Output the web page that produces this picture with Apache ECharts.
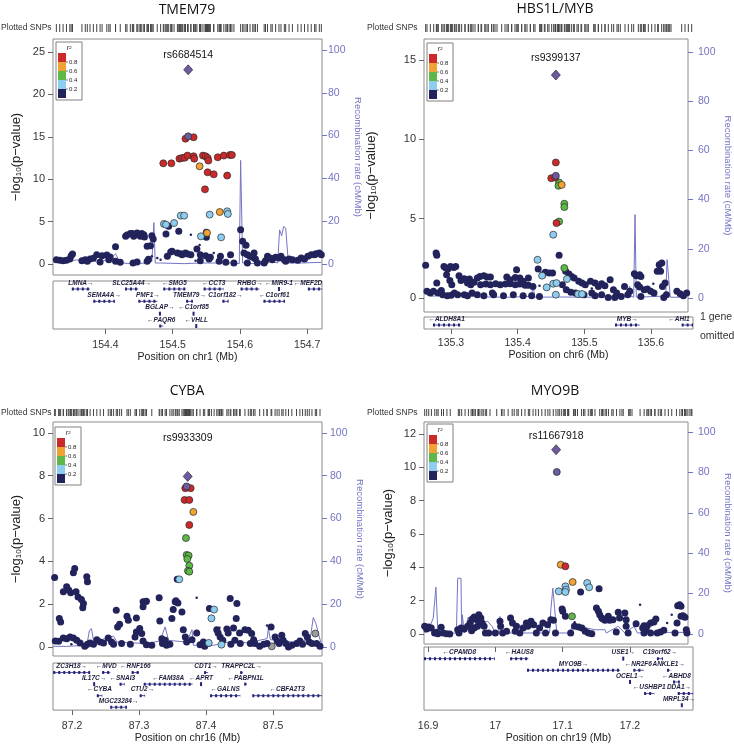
<!DOCTYPE html>
<html>
<head>
<meta charset="utf-8">
<script src="https://cdn.jsdelivr.net/npm/echarts@6/dist/echarts.min.js"></script>
<style>
  html, body { margin: 0; background: #fff; }
  #chart { width: 734px; height: 745px; }
</style>
</head>
<body>
<div id="chart"></div>
<script>
// ---- data ----
const titles = ['TMEM79', 'HBS1L/MYB', 'CYBA', 'MYO9B']
const chromNames = ['chr1', 'chr6', 'chr16', 'chr19']
const leadSnps = ['rs6684514', 'rs9399137', 'rs9933309', 'rs11667918']
const leadPoints = [[154.523, 22.9], [135.461, 14.05], [87.3726, 7.97], [17.094, 11.06]]
const r2Labels = ['0.8', '0.6', '0.4', '0.2']
const pTicks = [[0, 5, 10, 15, 20, 25], [0, 5, 10, 15], [0, 2, 4, 6, 8, 10], [0, 2, 4, 6, 8, 10, 12]]
const recTicks = [0, 20, 40, 60, 80, 100]
const posTicks = [[154.4, 154.5, 154.6, 154.7], [135.3, 135.4, 135.5, 135.6], [87.2, 87.3, 87.4, 87.5], [16.9, 17, 17.1, 17.2]]

// [position Mb, -log10 p, r2 class] class: 0 <0.2, 1 0.2-0.4, 2 0.4-0.6, 3 0.6-0.8, 4 >0.8, 5 lead proxy, 6 no r2
const snp1 = [
  [154.327,0.51,0],[154.332,0.43,0],[154.337,0.39,0],[154.342,0.43,0],[154.347,0.59,0],[154.349,0.98,0],[154.351,1.18,0],[154.365,0.39,0],[154.370,0.51,0],[154.373,0.31,0],[154.377,0.59,0],[154.382,0.67,0],[154.387,1.1,0],[154.392,0.24,0],[154.395,0.98,0],[154.402,1.06,0],[154.405,0.51,0],[154.407,0.83,0],[154.415,2.04,0],[154.415,0.31,0],[154.422,0.2,0],
  [154.430,3.26,0],[154.432,3.42,0],[154.437,3.58,0],[154.440,3.58,0],[154.442,3.26,0],[154.447,3.66,0],[154.450,3.46,0],[154.452,3.26,0],[154.454,3.58,0],[154.457,3.46,0],[154.458,3.18,0],[154.469,3.34,0],[154.471,2.95,0],[154.462,2.08,0],[154.467,2.16,0],[154.441,0.12,0],[154.447,0.24,0],[154.462,0.31,0],[154.464,0.55,0],
  [154.492,0.9,0],[154.497,1.42,0],[154.499,1.49,0],[154.507,1.3,0],[154.512,1.22,0],[154.514,1.1,0],[154.519,1.3,0],[154.522,1.18,0],[154.527,1.1,0],[154.536,1.77,0],[154.541,1.1,0],[154.549,0.98,0],[154.556,0.79,0],[154.571,0.9,0],[154.586,1.1,0],[154.541,0.39,0],[154.554,0.59,0],[154.569,0.31,0],[154.579,0.2,0],[154.591,0.12,0],
  [154.604,2.67,0],[154.609,2.2,0],[154.606,1.3,0],[154.611,1.1,0],[154.615,0.9,0],[154.619,0.79,0],[154.621,1.3,0],[154.623,0.59,0],[154.626,0.12,0],[154.611,0.12,0],[154.636,0.12,0],[154.638,0.39,0],[154.641,0.9,0],[154.646,0.67,0],[154.648,0.51,0],[154.653,0.79,0],[154.658,0.71,0],[154.661,0.9,0],[154.666,0.51,0],[154.668,0.31,0],[154.673,0.59,0],[154.678,0.51,0],[154.686,0.43,0],[154.691,0.71,0],[154.696,0.59,0],[154.701,0.9,0],[154.706,1.1,0],[154.711,1.1,0],[154.713,1.22,0],[154.718,1.3,0],[154.721,1.1,0],
  [154.494,4.44,0],[154.550,3.73,0],[154.509,3.85,0],[154.490,3.54,0],[154.550,3.14,0],[154.601,4.05,0],
  [154.487,4.72,1],[154.490,4.64,1],[154.502,4.83,1],[154.512,5.7,1],[154.517,5.7,1],[154.555,5.82,1],[154.581,6.21,1],[154.582,5.9,1],[154.542,3.26,1],[154.572,3.14,1],
  [154.540,11.52,3],[154.570,6.13,3],[154.551,3.66,3],
  [154.519,14.78,4],[154.531,14.94,4],[154.486,11.87,4],[154.498,11.87,4],[154.510,12.42,4],[154.514,12.5,4],[154.518,12.54,4],[154.522,12.78,4],[154.531,12.7,4],[154.532,12.42,4],[154.545,12.78,4],[154.549,12.7,4],[154.552,12.5,4],[154.553,12.19,4],[154.567,12.58,4],[154.576,12.78,4],[154.585,12.85,4],[154.588,12.85,4],[154.552,10.81,4],[154.561,10.57,4],[154.581,10.42,4],[154.548,8.8,4],
  [154.523,15.05,5]
]
const small1 = [[154.527,3.46],[154.540,2.24],[154.477,0.71],[154.469,0.9],[154.482,0.51],[154.534,0.39],[154.561,1.3]]
const recomb1 = [[154.323,1.2],[154.342,1.1],[154.357,2.0],[154.372,0.8],[154.380,2.8],[154.387,0.8],[154.407,2.3],[154.415,4.8],[154.422,0.5],[154.442,0.2],[154.462,0.5],[154.469,1.2],[154.472,19.4],[154.474,0.5],[154.482,0.5],[154.517,0.2],[154.541,0.5],[154.591,0.5],[154.599,0.2],[154.601,48.4],[154.604,0.5],[154.621,0.2],[154.641,2.0],[154.656,0.5],[154.659,16.0],[154.662,13.2],[154.665,17.6],[154.668,16.8],[154.672,0.5],[154.691,0.5],[154.721,0.8]]
// [name, start, end, strand, row]
const genes1 = [
  ['LMNA',154.350,154.377,1,1],['SLC25A44',154.429,154.449,1,1],['SMG5',154.486,154.519,-1,1],['CCT3',154.546,154.576,-1,1],['RHBG',154.601,154.629,1,1],['MIR9-1',154.657,154.659,-1,1],['MEF2D',154.701,154.722,-1,1],
  ['SEMA4A',154.382,154.414,1,2],['PMF1',154.449,154.477,1,2],['TMEM79',154.520,154.530,1,2],['C1orf182',154.574,154.583,1,2],['C1orf61',154.635,154.667,-1,2],
  ['BGLAP',154.480,154.482,1,3],['C1orf85',154.530,154.532,-1,3],
  ['PAQR6',154.480,154.486,-1,4],['VHLL',154.534,154.536,-1,4]
]

const snp2 = [
  [135.441,1.47,0],[135.445,1.62,0],[135.451,1.57,0],[135.456,1.57,0],[135.476,1.68,0],[135.481,1.51,0],[135.485,1.36,0],[135.489,1.26,0],[135.471,0.84,0],[135.477,0.52,0],[135.484,0.36,0],[135.491,0.31,0],[135.504,0.21,0],
  [135.262,2.06,0],[135.264,0.42,0],[135.269,0.31,0],[135.274,0.42,0],[135.278,2.83,0],[135.279,2.69,0],[135.279,0.94,0],[135.281,0.31,0],[135.286,0.48,0],[135.290,1.99,0],[135.293,1.89,0],[135.296,1.83,0],[135.300,1.99,0],[135.305,1.93,0],[135.308,1.99,0],[135.294,1.47,0],[135.299,1.11,0],[135.302,0.84,0],[135.288,0.21,0],[135.295,0.15,0],[135.301,0.17,0],[135.306,0.31,0],[135.311,0.21,0],
  [135.313,1.41,0],[135.316,1.11,0],[135.321,1.22,0],[135.326,0.94,0],[135.329,1.2,0],[135.331,0.84,0],[135.336,0.99,0],[135.341,1.26,0],[135.345,1.36,0],[135.351,1.41,0],[135.356,1.32,0],[135.361,1.32,0],[135.364,0.31,0],[135.321,0.21,0],[135.326,0.15,0],[135.333,0.31,0],[135.341,0.21,0],
  [135.346,0.84,0],[135.354,0.88,0],[135.361,0.84,0],[135.369,0.9,0],[135.376,0.84,0],[135.384,0.88,0],[135.391,0.9,0],[135.399,0.84,0],[135.406,0.88,0],[135.414,0.8,0],[135.419,0.8,0],[135.426,0.73,0],
  [135.351,0.15,0],[135.366,0.21,0],[135.381,0.15,0],[135.396,0.21,0],[135.411,0.15,0],[135.424,0.15,0],[135.436,0.1,0],
  [135.386,1.32,0],[135.391,1.15,0],[135.399,1.3,0],[135.401,1.78,0],[135.406,1.26,0],[135.411,1.05,0],[135.419,1.26,0],
  [135.496,1.05,0],[135.501,0.94,0],[135.506,0.84,0],[135.514,1.05,0],[135.521,0.94,0],[135.526,0.73,0],[135.531,0.9,0],[135.536,0.78,0],[135.544,1.15,0],[135.549,0.52,0],[135.554,0.31,0],[135.561,0.1,0],[135.571,0.21,0],[135.566,0.73,0],[135.574,0.42,0],
  [135.581,1.53,0],[135.584,1.41,0],[135.589,1.47,0],[135.591,1.36,0],[135.586,0.84,0],[135.589,0.69,0],[135.591,0.1,0],[135.596,0.52,0],[135.601,0.57,0],[135.606,0.42,0],[135.611,0.31,0],[135.616,1.68,0],[135.621,1.68,0],[135.619,2.1,0],[135.623,2.2,0],[135.624,0.73,0],[135.626,0.04,0],[135.628,0.94,0],[135.630,0.21,0],[135.646,0.42,0],[135.651,0.27,0],[135.656,0.15,0],[135.661,0.31,0],[135.521,0.15,0],[135.531,0.21,0],[135.516,0.31,0],[135.541,0.04,0],[135.551,0.04,0],
  [135.466,2.69,0],[135.434,1.83,0],
  [135.457,3.99,1],[135.433,2.41,1],[135.440,1.41,1],[135.447,0.67,1],[135.457,0.9,1],[135.462,0.94,1],[135.478,1.2,1],[135.495,0.25,1],[135.461,0.21,1],[135.501,0.25,1],
  [135.466,7.28,2],[135.465,7.07,2],[135.474,5.94,2],[135.474,5.73,2],[135.466,4.82,2],[135.474,1.89,2],
  [135.470,7.13,3],
  [135.461,8.54,4],[135.454,7.55,4],[135.460,7.59,4],[135.462,4.72,4],
  [135.461,7.7,5]
]
const small2 = [[135.436,0.78],[135.516,0.6],[135.610,0.9]]
const recomb2 = [[135.261,2.0],[135.271,0.7],[135.301,1.4],[135.321,0.9],[135.351,0.4],[135.391,0.3],[135.424,0.7],[135.426,5.4],[135.429,0.3],[135.466,0.4],[135.521,0.3],[135.566,0.7],[135.574,4.7],[135.576,0.7],[135.580,0.3],[135.582,33.9],[135.584,0.3],[135.621,0.7],[135.629,0.9],[135.631,15.6],[135.634,15.3],[135.636,0.3],[135.661,0.3]]
const genes2 = [['ALDH8A1',135.273,135.314,-1,1],['MYB',135.546,135.583,1,1],['AHI1',135.646,135.663,-1,1]]

const snp3 = [
  [87.174,3.25,0],[87.181,1.33,0],[87.183,1.17,0],[87.187,2.58,0],[87.192,2.81,0],[87.195,2.66,0],[87.198,2.53,0],[87.202,3.47,0],[87.204,3.67,0],[87.206,2.58,0],[87.209,2.34,0],[87.214,2.22,0],[87.217,2.03,0],[87.216,1.83,0],[87.222,3.28,0],[87.223,3.05,0],
  [87.175,0.28,0],[87.180,0.27,0],[87.187,0.42,0],[87.192,0.39,0],[87.197,0.47,0],[87.202,0.42,0],[87.207,0.31,0],[87.212,0.19,0],[87.219,0.03,0],[87.223,0.13,0],[87.227,0.19,0],
  [87.232,0.13,0],[87.237,0.34,0],[87.242,0.23,0],[87.247,0.19,0],[87.254,0.42,0],[87.259,0.23,0],[87.262,0.13,0],[87.266,1.72,0],[87.268,0.94,0],[87.271,1.06,0],[87.274,0.16,0],[87.282,1.44,0],[87.284,1.25,0],[87.287,0.13,0],[87.296,1.36,0],[87.294,0.47,0],[87.296,0.7,0],[87.301,0.86,0],[87.304,0.63,0],[87.306,0.28,0],[87.311,0.11,0],[87.319,0.08,0],[87.306,2.11,0],[87.306,1.88,0],[87.309,2.11,0],[87.311,2.14,0],
  [87.330,2.3,0],[87.331,1.22,0],[87.334,0.39,0],[87.335,0.16,0],[87.339,0.31,0],[87.341,0.08,0],[87.346,0.13,0],[87.349,1.33,0],[87.351,1.75,0],[87.354,2.11,0],[87.355,2.16,0],[87.358,2.06,0],[87.364,1.64,0],[87.366,0.81,0],[87.369,0.47,0],[87.371,0.23,0],[87.379,0.34,0],[87.386,0.66,0],[87.391,0.11,0],[87.396,0.23,0],[87.398,0.03,0],[87.403,0.16,0],
  [87.405,1.8,0],[87.416,0.81,0],[87.418,0.66,0],[87.421,0.47,0],[87.425,0.31,0],[87.431,0.84,0],[87.436,2.27,0],[87.433,0.66,0],[87.437,0.13,0],[87.441,0.89,0],[87.446,2.03,0],[87.445,1.33,0],[87.443,0.31,0],[87.450,0.66,0],[87.451,0.16,0],[87.458,0.81,0],[87.463,0.78,0],[87.466,0.16,0],[87.468,0.63,0],[87.471,0.34,0],[87.473,0.16,0],[87.480,0.03,0],[87.486,0.13,0],[87.491,0.16,0],[87.497,0.94,0],
  [87.503,0.47,0],[87.506,0.28,0],[87.509,0.16,0],[87.513,0.55,0],[87.515,0.31,0],[87.519,0.16,0],[87.523,0.0,0],[87.528,0.08,0],[87.535,0.16,0],[87.540,0.28,0],[87.544,0.13,0],[87.548,0.63,0],[87.551,0.47,0],[87.554,0.23,0],[87.558,0.16,0],[87.565,0.16,0],[87.570,0.03,0],
  [87.357,3.16,0],
  [87.563,0.63,6],[87.498,0.03,6],
  [87.360,3.16,1],[87.412,1.75,1],[87.408,1.34,1],[87.404,0.19,1],[87.423,0.11,1],
  [87.370,5.09,2],[87.371,4.3,2],[87.374,4.27,2],[87.372,4.11,2],[87.375,3.8,2],[87.373,3.56,2],[87.375,3.52,2],
  [87.381,6.31,3],
  [87.369,7.42,4],[87.377,7.42,4],[87.368,6.87,4],[87.375,6.87,4],[87.375,5.7,4],
  [87.371,7.5,5]
]
const small3 = [[87.386,2.3],[87.491,1.0],[87.257,0.28],[87.199,0.13],[87.420,0.9]]
const recomb3 = [[87.172,0.3],[87.192,0.3],[87.222,0.8],[87.226,7.8],[87.229,8.6],[87.232,3.1],[87.242,2.8],[87.252,4.7],[87.262,5.0],[87.267,2.3],[87.292,1.9],[87.311,1.6],[87.331,2.8],[87.339,9.4],[87.344,3.1],[87.371,2.3],[87.379,8.1],[87.381,0.8],[87.411,0.8],[87.441,2.8],[87.461,1.9],[87.491,3.9],[87.493,8.6],[87.496,3.4],[87.530,2.3],[87.540,2.8],[87.555,3.1],[87.560,13.75],[87.564,10.9],[87.569,4.7],[87.573,0.3]]
const genes3 = [
  ['ZC3H18',87.172,87.227,1,1],['MVD',87.245,87.257,-1,1],['RNF166',87.289,87.300,-1,1],['CDT1',87.397,87.403,1,1],['TRAPPC2L',87.451,87.455,1,1],
  ['IL17C',87.232,87.234,1,2],['SNAI3',87.271,87.279,-1,2],['FAM38A',87.307,87.380,-1,2],['APRT',87.391,87.394,-1,2],['PABPN1L',87.457,87.461,-1,2],
  ['CYBA',87.237,87.245,-1,3],['CTU2',87.301,87.309,1,3],['GALNS',87.406,87.451,-1,3],['CBFA2T3',87.469,87.573,-1,3],
  ['MGC23284',87.257,87.282,1,4]
]

const snp4 = [
  [16.895,0.46,0],[16.898,0.3,0],[16.901,0.42,0],[16.905,0.36,0],[16.910,0.06,0],[16.915,0.02,0],[16.920,0.4,0],[16.923,0.06,0],[16.928,0.02,0],[16.933,0.0,0],[16.913,0.1,0],
  [16.945,0.26,0],[16.947,0.06,0],[16.950,0.36,0],[16.955,0.3,0],[16.960,0.46,0],[16.964,0.66,0],[16.967,0.9,0],[16.970,1.02,0],[16.974,0.86,0],[16.977,1.16,0],[16.980,0.96,0],[16.982,0.66,0],[16.985,0.46,0],[16.975,0.46,0],[16.970,0.36,0],[16.966,0.2,0],[16.987,0.06,0],[16.992,0.06,0],[17.002,0.06,0],
  [17.009,0.76,0],[17.010,0.46,0],[17.013,0.06,0],[17.019,0.16,0],[17.025,0.96,0],[17.028,0.66,0],[17.032,0.16,0],[17.034,0.46,0],[17.039,0.06,0],[17.044,0.36,0],[17.049,0.66,0],[17.051,0.46,0],[17.056,0.76,0],[17.060,0.56,0],[17.064,0.06,0],[17.069,0.36,0],[17.074,0.66,0],[17.078,0.06,0],[17.081,0.56,0],[17.086,0.86,0],[17.090,0.82,0],[17.093,0.06,0],
  [17.116,0.06,0],[17.122,0.46,0],[17.128,0.42,0],[17.133,0.36,0],[17.138,0.16,0],[17.143,0.06,0],[17.148,0.02,0],[17.155,1.56,0],[17.158,1.36,0],[17.160,1.16,0],[17.163,0.96,0],[17.165,0.9,0],[17.168,0.82,0],[17.173,1.06,0],[17.175,0.82,0],[17.180,0.86,0],[17.188,1.3,0],[17.190,0.96,0],[17.198,1.26,0],[17.200,0.86,0],[17.200,0.46,0],[17.203,0.06,0],[17.185,0.12,0],
  [17.215,0.62,0],[17.225,0.36,0],[17.227,0.5,0],[17.230,0.26,0],[17.232,0.5,0],[17.237,0.66,0],[17.242,0.72,0],[17.245,0.9,0],[17.247,0.06,0],[17.252,0.12,0],[17.257,0.22,0],[17.274,0.06,0],[17.277,0.66,0],[17.278,1.7,0],[17.281,1.76,0],[17.283,1.66,0],[17.283,1.06,0],[17.286,1.1,0],[17.289,1.0,0],[17.291,0.26,0],[17.292,0.06,0],[17.237,0.06,0],[17.227,0.06,0],
  [17.131,2.52,0],[17.159,2.72,0],[17.103,1.5,0],[17.104,1.36,0],[17.108,1.06,0],
  [17.098,2.56,1],[17.108,2.86,1],[17.109,2.66,1],[17.108,2.52,1],[17.141,3.06,1],[17.144,2.8,1],
  [17.118,1.06,2],
  [17.101,4.16,3],[17.119,3.12,3],
  [17.108,4.06,4],
  [17.095,9.72,5]
]
const small4 = [[17.221,1.76],[17.262,0.66],[17.269,1.16],[17.122,0.7]]
const recomb4 = [[16.895,0.5],[16.903,3.8],[16.908,7.9],[16.912,23.2],[16.915,0.5],[16.925,0.2],[16.943,0.5],[16.945,27.6],[16.950,27.6],[16.951,0.5],[16.952,9.5],[16.955,0.5],[16.961,8.4],[16.964,8.4],[16.966,0.5],[16.975,3.8],[16.982,5.4],[16.990,6.3],[16.997,3.8],[17.002,0.5],[17.007,0.5],[17.009,8.7],[17.012,0.5],[17.039,0.5],[17.084,0.5],[17.086,12.0],[17.089,22.7],[17.092,22.7],[17.095,0.5],[17.116,0.5],[17.118,5.1],[17.128,3.8],[17.153,2.1],[17.168,2.1],[17.170,0.5],[17.188,3.8],[17.198,0.5],[17.212,3.8],[17.217,0.5],[17.252,0.8],[17.292,0.8]]
const genes4 = [
  ['CPAMD8',16.894,16.999,-1,1],['HAUS8',17.022,17.049,-1,1],['USE1',17.189,17.191,1,1],['C19orf62',17.240,17.249,1,1],
  ['MYO9B',17.047,17.185,1,2],['NR2F6',17.205,17.220,-1,2],['ANKLE1',17.255,17.260,1,2],
  ['OCEL1',17.199,17.201,1,3],['ABHD8',17.264,17.274,-1,3],
  ['USHBP1',17.221,17.236,-1,4],['DDA1',17.271,17.294,1,4],
  ['MRPL34',17.276,17.278,1,5]
]

const snpSets = [snp1, snp2, snp3, snp4]
const smallSets = [small1, small2, small3, small4]
const recombSets = [recomb1, recomb2, recomb3, recomb4]
const geneSets = [genes1, genes2, genes3, genes4]

// ---- layout & style ----
const FONT = '"Liberation Sans", Arial, sans-serif'
const NARROW = '"Liberation Sans Narrow", "Liberation Sans", Arial, sans-serif'
const R2_COLORS = ['#23235c', '#8ccdf0', '#5db848', '#f0a235', '#cc2a2a', '#6e5aa0', '#9c9c9c']
const RECOMB = '#7474c4'
const GENE = '#23237a'

const layout = [
  { main: [53, 39, 269, 236], gene: [53, 281, 269, 48], rug: [53, 24, 269, 8], x: [154.322, 154.722], p: [-1.3, 26.53], r: [-5.1, 105.1], g: [0.35, 4.24],
    title: [187, 10], snpText: [1, 28], legend: [56, 42], gapL: 30, gapR: 31, marginR: 6, labelGap: 3.5, labMargin: 11, nameGap: 21 },
  { main: [424, 39, 269, 273], gene: [424, 317, 269, 12], rug: [424, 24, 269, 8], x: [135.2595, 135.663], p: [-0.88, 16.32], r: [-5.7, 105.3], g: [0.35, 1.32],
    title: [555, 9], snpText: [367, 28], legend: [427, 43], gapL: 46, gapR: 35, marginR: 10, labelGap: 6.5, labMargin: 9, nameGap: 19 },
  { main: [53, 422, 269, 234], gene: [53, 663, 269, 49], rug: [53, 409, 269, 7], x: [87.1716, 87.573], p: [-0.42, 10.51], r: [-4.2, 105.1], g: [0.17, 4.25],
    title: [187, 391], snpText: [1, 413], legend: [55, 427], gapL: 30, gapR: 33, marginR: 8, labelGap: 27.5, labMargin: 11, nameGap: 21 },
  { main: [424, 422, 269, 222], gene: [424, 647, 269, 65], rug: [424, 409, 269, 7], x: [16.894, 17.2936], p: [-0.6, 12.72], r: [-4.95, 104.95], g: [0, 5.42],
    title: [555, 391], snpText: [367, 413], legend: [427, 424], gapL: 29, gapR: 35, marginR: 10, labelGap: 2.5, labMargin: 11, nameGap: 21 }
]

const grids = [], xAxes = [], yAxes = [], series = [], graphics = []

const boxGrid = (b, show) => ({ left: b[0], top: b[1], width: b[2], height: b[3], show, borderColor: '#8c8c8c', borderWidth: 1, backgroundColor: 'transparent' })

const legendBox = (pos) => {
  const kids = [
    { type: 'rect', shape: { x: 0, y: 0, width: 26, height: 58 }, style: { fill: '#fff', stroke: '#808080', lineWidth: 1 } },
    { type: 'text', style: { x: 13, y: 6, text: 'r²', font: 'italic 7px ' + FONT, fill: '#222', align: 'center', verticalAlign: 'middle' } }
  ]
  ;[4, 3, 2, 1, 0].forEach((c, i) => {
    kids.push({ type: 'rect', shape: { x: 2, y: 11 + i * 9, width: 8, height: 9 }, style: { fill: R2_COLORS[c] } })
  })
  r2Labels.forEach((t, i) => {
    const y = 20 + i * 9
    kids.push({ type: 'line', shape: { x1: 10, y1: y, x2: 12, y2: y }, style: { stroke: '#444', lineWidth: 0.7 } })
    kids.push({ type: 'text', style: { x: 13, y, text: t, font: '6px ' + FONT, fill: '#222', verticalAlign: 'middle' } })
  })
  return { type: 'group', x: pos[0], y: pos[1], children: kids }
}

layout.forEach((L, k) => {
  const gi = grids.length, xi = xAxes.length, yi = yAxes.length
  grids.push(boxGrid(L.main, true), boxGrid(L.gene, true), boxGrid(L.rug, false))

  xAxes.push({ gridIndex: gi, type: 'value', min: L.x[0], max: L.x[1], show: false })
  xAxes.push({
    gridIndex: gi + 1, type: 'value', min: L.x[0], max: L.x[1],
    axisLine: { show: false }, splitLine: { show: false },
    axisTick: { show: true, customValues: posTicks[k], length: 5, lineStyle: { color: '#666' } },
    axisLabel: { customValues: posTicks[k], color: '#333', fontSize: 10.5, fontFamily: NARROW, margin: L.labMargin },
    name: 'Position on ' + chromNames[k] + ' (Mb)', nameLocation: 'middle', nameGap: L.nameGap,
    nameTextStyle: { color: '#222', fontSize: 10.5, fontFamily: NARROW }
  })
  xAxes.push({ gridIndex: gi + 2, type: 'value', min: L.x[0], max: L.x[1], show: false })

  yAxes.push({
    gridIndex: gi, type: 'value', min: L.p[0], max: L.p[1], position: 'left',
    axisLine: { show: false }, splitLine: { show: false },
    axisTick: { show: true, customValues: pTicks[k], length: 5, lineStyle: { color: '#666' } },
    axisLabel: { customValues: pTicks[k], color: '#333', fontSize: 11, fontFamily: NARROW, margin: 8 },
    name: '−log{sub|10}(p−value)', nameLocation: 'middle', nameRotate: 90, nameGap: L.gapL,
    nameTextStyle: { color: '#222', fontSize: 13, fontFamily: FONT, rich: { sub: { fontSize: 8, fontFamily: FONT, color: '#222', padding: [5, 0, 0, 0] } } }
  })
  yAxes.push({
    gridIndex: gi, type: 'value', min: L.r[0], max: L.r[1], position: 'right',
    axisLine: { show: false }, splitLine: { show: false },
    axisTick: { show: true, customValues: recTicks, length: 5, lineStyle: { color: RECOMB } },
    axisLabel: { customValues: recTicks, color: RECOMB, fontSize: 10.5, fontFamily: NARROW, margin: L.marginR },
    name: 'Recombination rate (cM/Mb)', nameLocation: 'middle', nameRotate: -90, nameGap: L.gapR,
    nameTextStyle: { color: RECOMB, fontSize: 9.5, fontFamily: FONT }
  })
  yAxes.push({ gridIndex: gi + 1, type: 'value', min: L.g[0], max: L.g[1], inverse: true, show: false })
  yAxes.push({ gridIndex: gi + 2, type: 'value', min: 0, max: 1, show: false })

  // recombination rate
  series.push({
    type: 'line', xAxisIndex: xi, yAxisIndex: yi + 1, data: recombSets[k], symbol: 'none', silent: true, z: 1,
    lineStyle: { color: RECOMB, width: 1 }
  })
  // small SNP dots
  series.push({
    type: 'scatter', xAxisIndex: xi, yAxisIndex: yi, data: smallSets[k], symbolSize: 2.5, silent: true, z: 2,
    itemStyle: { color: R2_COLORS[0], opacity: 1 }
  })
  // SNPs coloured by r2
  const pts = snpSets[k].slice()
    .sort((a, b) => (a[2] === 6 ? -1 : a[2]) - (b[2] === 6 ? -1 : b[2]))
    .map(d => ({
      value: [d[0], d[1]],
      itemStyle: { color: R2_COLORS[d[2]], opacity: 1, borderColor: d[2] === 0 ? R2_COLORS[0] : '#2a2a2a', borderWidth: d[2] === 0 ? 0 : 0.7 }
    }))
  series.push({ type: 'scatter', xAxisIndex: xi, yAxisIndex: yi, data: pts, symbolSize: 7, silent: true, z: 3 })
  // lead SNP
  series.push({
    type: 'scatter', xAxisIndex: xi, yAxisIndex: yi, data: [leadPoints[k]], symbol: 'diamond', symbolSize: [9, 10], silent: true, z: 4,
    itemStyle: { color: R2_COLORS[5], opacity: 1, borderColor: '#2a2a2a', borderWidth: 0.7 },
    label: { show: true, formatter: leadSnps[k], position: 'top', distance: L.labelGap, color: '#111', fontSize: 10.5, fontFamily: NARROW }
  })
  // plotted SNPs rug
  const rug = snpSets[k].map(d => [d[0], 0.5]).concat(smallSets[k].map(d => [d[0], 0.5]))
  series.push({
    type: 'scatter', xAxisIndex: xi + 2, yAxisIndex: yi + 3, data: rug, symbol: 'rect', symbolSize: [1, L.rug[3]], silent: true,
    itemStyle: { color: '#444', opacity: 1 }
  })
  // genes
  const genes = geneSets[k]
  series.push({
    type: 'custom', xAxisIndex: xi + 1, yAxisIndex: yi + 2, silent: true,
    data: genes.map(g => [g[1], g[2], g[4]]),
    renderItem: (params, api) => {
      const g = genes[params.dataIndex]
      const a = api.coord([api.value(0), api.value(2)])
      const b = api.coord([api.value(1), api.value(2)])
      const cs = params.coordSys
      const x0 = Math.max(a[0], cs.x), x1 = Math.min(b[0], cs.x + cs.width)
      const y = a[1]
      const kids = []
      if (x1 - x0 < 2.5) {
        kids.push({ type: 'rect', shape: { x: (x0 + x1) / 2 - 1, y: y - 2, width: 2, height: 4 }, style: { fill: GENE } })
      } else {
        kids.push({ type: 'line', shape: { x1: x0, y1: y, x2: x1, y2: y }, style: { stroke: GENE, lineWidth: 0.8 } })
        kids.push({ type: 'line', shape: { x1: x0, y1: y, x2: x1, y2: y }, style: { stroke: GENE, lineWidth: 3, lineDash: [2, 3] } })
      }
      const label = g[3] > 0 ? g[0] + '→' : '←' + g[0]
      const lx = Math.min((x0 + x1) / 2, cs.x + cs.width - 14)
      kids.push({ type: 'text', style: { x: lx, y: y - 2.5, text: label, font: 'italic bold 6.5px ' + NARROW, fill: '#1e1e3c', align: 'center', verticalAlign: 'bottom' } })
      return { type: 'group', children: kids }
    }
  })

  graphics.push({ type: 'text', x: L.title[0], y: L.title[1], style: { text: titles[k], font: '14px "Open Sans", sans-serif', fill: '#111', align: 'center', verticalAlign: 'middle' } })
  graphics.push({ type: 'text', x: L.snpText[0], y: L.snpText[1], style: { text: 'Plotted SNPs', font: '8.5px ' + NARROW, fill: '#333', verticalAlign: 'middle' } })
  graphics.push(legendBox(L.legend))
})

graphics.push({ type: 'text', x: 700, y: 317, style: { text: '1 gene', font: '10.5px ' + NARROW, fill: '#333', verticalAlign: 'middle' } })
graphics.push({ type: 'text', x: 700, y: 336, style: { text: 'omitted', font: '10.5px ' + NARROW, fill: '#333', verticalAlign: 'middle' } })

const chart = echarts.init(document.getElementById('chart'))
chart.setOption({
  animation: false,
  backgroundColor: '#fff',
  textStyle: { fontFamily: FONT },
  grid: grids,
  xAxis: xAxes,
  yAxis: yAxes,
  series,
  graphic: graphics
})
</script>
</body>
</html>
